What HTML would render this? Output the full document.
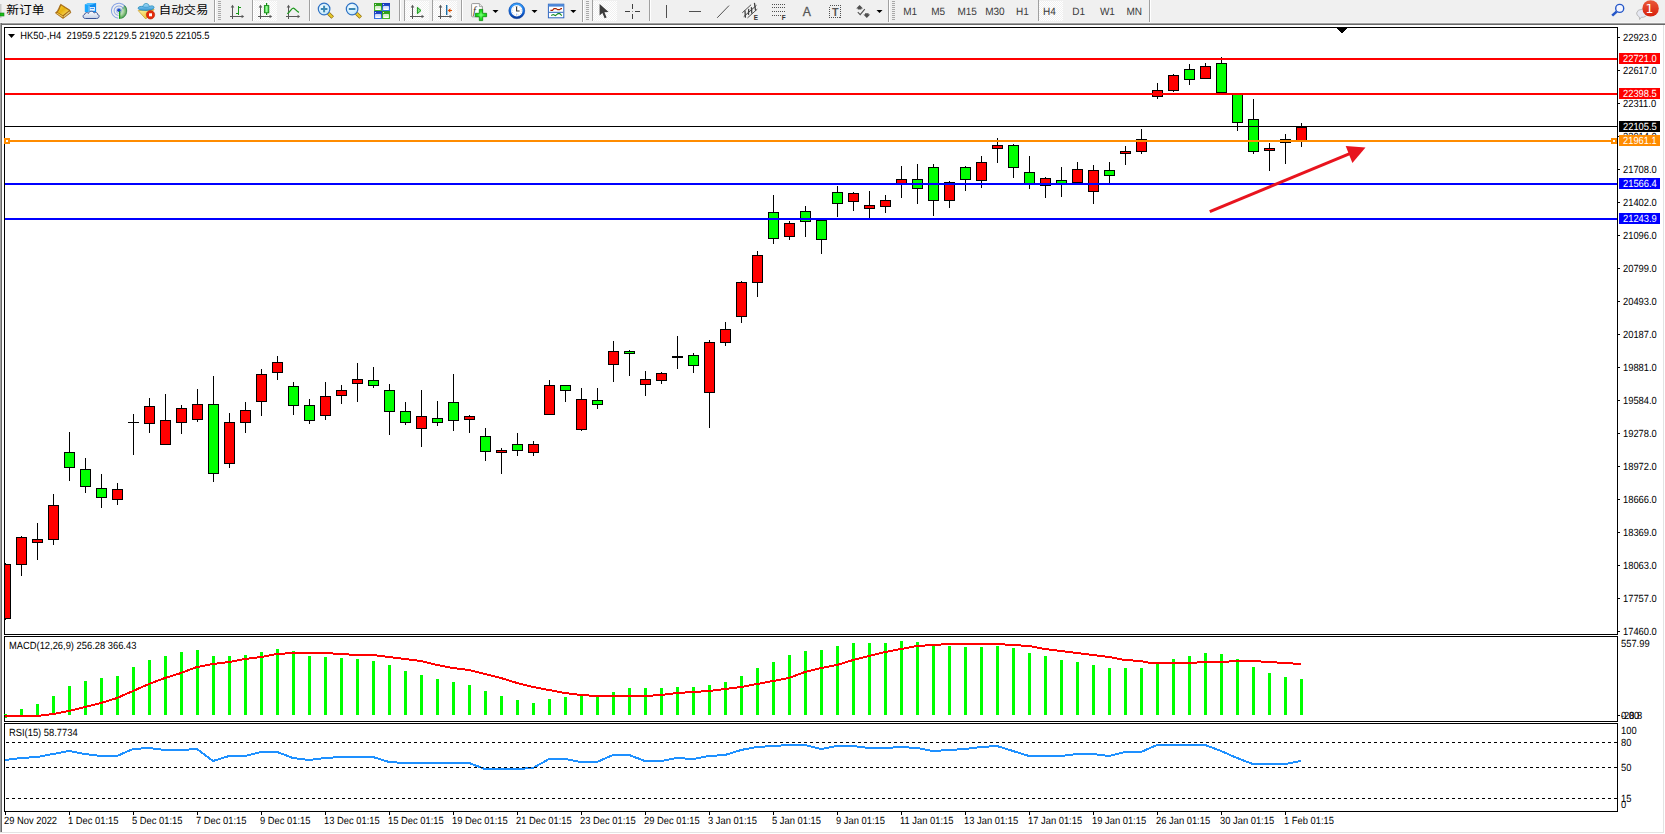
<!DOCTYPE html>
<html><head><meta charset="utf-8"><title>HK50-,H4</title>
<style>
html,body{margin:0;padding:0;background:#fff;overflow:hidden}
#app{position:relative;width:1665px;height:834px;background:#fff;overflow:hidden;font-family:"Liberation Sans","Noto Sans CJK SC",sans-serif}
#tb{position:absolute;left:0;top:0;width:1665px;height:25px;background:linear-gradient(#f0f0f0 0,#f0f0f0 22px,#f6f6f6 22px,#f6f6f6 23px,#a0a0a0 23px,#a0a0a0 24px,#696969 24px,#696969 25px)}
#lb{position:absolute;left:0;top:23px;width:2px;height:809px;background:linear-gradient(90deg,#a0a0a0 0,#a0a0a0 1px,#696969 1px,#696969 2px)}
#rb{position:absolute;left:1663px;top:25px;width:1px;height:808px;background:#e3e3e3}
#bb{position:absolute;left:0;top:832px;width:1664px;height:1px;background:#e3e3e3}
.cn{position:absolute;font-size:12px;line-height:12px;color:#000;white-space:nowrap;font-family:"Liberation Sans","Noto Sans CJK SC",sans-serif}
.tf{position:absolute;top:6px;font-size:9.33px;line-height:11px;color:#444;white-space:nowrap}
</style></head><body><div id="app">
<svg width="1665" height="834" viewBox="0 0 1665 834" style="position:absolute;left:0;top:0" font-size="10.4" font-family="Liberation Sans, sans-serif" text-rendering="geometricPrecision">
<g shape-rendering="crispEdges">
<rect x="4.5" y="27.5" width="1613" height="607" fill="#fff" stroke="#000" stroke-width="1"/>
<rect x="4.5" y="636.5" width="1613" height="85" fill="#fff" stroke="#000" stroke-width="1"/>
<rect x="4.5" y="723.5" width="1613" height="88" fill="#fff" stroke="#000" stroke-width="1"/>
<clipPath id="cm"><rect x="5" y="28" width="1612" height="606"/></clipPath>
<g clip-path="url(#cm)">
<rect x="5" y="563" width="1" height="57" fill="#000"/>
<rect x="0" y="564" width="11" height="55" fill="#000"/>
<rect x="1" y="565" width="9" height="53" fill="#ff0000"/>
<rect x="21" y="536" width="1" height="40" fill="#000"/>
<rect x="16" y="537" width="11" height="28" fill="#000"/>
<rect x="17" y="538" width="9" height="26" fill="#ff0000"/>
<rect x="37" y="523" width="1" height="37" fill="#000"/>
<rect x="32" y="539" width="11" height="4" fill="#000"/>
<rect x="33" y="540" width="9" height="2" fill="#ff0000"/>
<rect x="53" y="494" width="1" height="51" fill="#000"/>
<rect x="48" y="505" width="11" height="35" fill="#000"/>
<rect x="49" y="506" width="9" height="33" fill="#ff0000"/>
<rect x="69" y="432" width="1" height="49" fill="#000"/>
<rect x="64" y="452" width="11" height="16" fill="#000"/>
<rect x="65" y="453" width="9" height="14" fill="#00ff00"/>
<rect x="85" y="458" width="1" height="35" fill="#000"/>
<rect x="80" y="469" width="11" height="18" fill="#000"/>
<rect x="81" y="470" width="9" height="16" fill="#00ff00"/>
<rect x="101" y="474" width="1" height="34" fill="#000"/>
<rect x="96" y="488" width="11" height="10" fill="#000"/>
<rect x="97" y="489" width="9" height="8" fill="#00ff00"/>
<rect x="117" y="483" width="1" height="22" fill="#000"/>
<rect x="112" y="489" width="11" height="11" fill="#000"/>
<rect x="113" y="490" width="9" height="9" fill="#ff0000"/>
<rect x="133" y="414" width="1" height="41" fill="#000"/>
<rect x="128" y="422" width="11" height="1" fill="#000"/>
<rect x="149" y="398" width="1" height="35" fill="#000"/>
<rect x="144" y="406" width="11" height="18" fill="#000"/>
<rect x="145" y="407" width="9" height="16" fill="#ff0000"/>
<rect x="165" y="394" width="1" height="51" fill="#000"/>
<rect x="160" y="420" width="11" height="25" fill="#000"/>
<rect x="161" y="421" width="9" height="23" fill="#ff0000"/>
<rect x="181" y="405" width="1" height="29" fill="#000"/>
<rect x="176" y="408" width="11" height="15" fill="#000"/>
<rect x="177" y="409" width="9" height="13" fill="#ff0000"/>
<rect x="197" y="389" width="1" height="33" fill="#000"/>
<rect x="192" y="404" width="11" height="16" fill="#000"/>
<rect x="193" y="405" width="9" height="14" fill="#ff0000"/>
<rect x="213" y="376" width="1" height="106" fill="#000"/>
<rect x="208" y="404" width="11" height="70" fill="#000"/>
<rect x="209" y="405" width="9" height="68" fill="#00ff00"/>
<rect x="229" y="413" width="1" height="55" fill="#000"/>
<rect x="224" y="422" width="11" height="42" fill="#000"/>
<rect x="225" y="423" width="9" height="40" fill="#ff0000"/>
<rect x="245" y="402" width="1" height="31" fill="#000"/>
<rect x="240" y="410" width="11" height="13" fill="#000"/>
<rect x="241" y="411" width="9" height="11" fill="#ff0000"/>
<rect x="261" y="369" width="1" height="47" fill="#000"/>
<rect x="256" y="374" width="11" height="28" fill="#000"/>
<rect x="257" y="375" width="9" height="26" fill="#ff0000"/>
<rect x="277" y="356" width="1" height="24" fill="#000"/>
<rect x="272" y="362" width="11" height="11" fill="#000"/>
<rect x="273" y="363" width="9" height="9" fill="#ff0000"/>
<rect x="293" y="382" width="1" height="33" fill="#000"/>
<rect x="288" y="386" width="11" height="20" fill="#000"/>
<rect x="289" y="387" width="9" height="18" fill="#00ff00"/>
<rect x="309" y="399" width="1" height="25" fill="#000"/>
<rect x="304" y="405" width="11" height="16" fill="#000"/>
<rect x="305" y="406" width="9" height="14" fill="#00ff00"/>
<rect x="325" y="382" width="1" height="38" fill="#000"/>
<rect x="320" y="396" width="11" height="20" fill="#000"/>
<rect x="321" y="397" width="9" height="18" fill="#ff0000"/>
<rect x="341" y="385" width="1" height="19" fill="#000"/>
<rect x="336" y="390" width="11" height="6" fill="#000"/>
<rect x="337" y="391" width="9" height="4" fill="#ff0000"/>
<rect x="357" y="363" width="1" height="39" fill="#000"/>
<rect x="352" y="379" width="11" height="5" fill="#000"/>
<rect x="353" y="380" width="9" height="3" fill="#ff0000"/>
<rect x="373" y="367" width="1" height="21" fill="#000"/>
<rect x="368" y="380" width="11" height="6" fill="#000"/>
<rect x="369" y="381" width="9" height="4" fill="#00ff00"/>
<rect x="389" y="384" width="1" height="51" fill="#000"/>
<rect x="384" y="390" width="11" height="22" fill="#000"/>
<rect x="385" y="391" width="9" height="20" fill="#00ff00"/>
<rect x="405" y="402" width="1" height="23" fill="#000"/>
<rect x="400" y="411" width="11" height="12" fill="#000"/>
<rect x="401" y="412" width="9" height="10" fill="#00ff00"/>
<rect x="421" y="390" width="1" height="57" fill="#000"/>
<rect x="416" y="416" width="11" height="13" fill="#000"/>
<rect x="417" y="417" width="9" height="11" fill="#ff0000"/>
<rect x="437" y="401" width="1" height="25" fill="#000"/>
<rect x="432" y="418" width="11" height="5" fill="#000"/>
<rect x="433" y="419" width="9" height="3" fill="#00ff00"/>
<rect x="453" y="374" width="1" height="57" fill="#000"/>
<rect x="448" y="402" width="11" height="19" fill="#000"/>
<rect x="449" y="403" width="9" height="17" fill="#00ff00"/>
<rect x="469" y="415" width="1" height="18" fill="#000"/>
<rect x="464" y="416" width="11" height="4" fill="#000"/>
<rect x="465" y="417" width="9" height="2" fill="#ff0000"/>
<rect x="485" y="428" width="1" height="33" fill="#000"/>
<rect x="480" y="436" width="11" height="16" fill="#000"/>
<rect x="481" y="437" width="9" height="14" fill="#00ff00"/>
<rect x="501" y="448" width="1" height="26" fill="#000"/>
<rect x="496" y="450" width="11" height="3" fill="#000"/>
<rect x="497" y="451" width="9" height="1" fill="#ff0000"/>
<rect x="517" y="433" width="1" height="23" fill="#000"/>
<rect x="512" y="444" width="11" height="7" fill="#000"/>
<rect x="513" y="445" width="9" height="5" fill="#00ff00"/>
<rect x="533" y="441" width="1" height="15" fill="#000"/>
<rect x="528" y="444" width="11" height="9" fill="#000"/>
<rect x="529" y="445" width="9" height="7" fill="#ff0000"/>
<rect x="549" y="380" width="1" height="35" fill="#000"/>
<rect x="544" y="385" width="11" height="30" fill="#000"/>
<rect x="545" y="386" width="9" height="28" fill="#ff0000"/>
<rect x="565" y="385" width="1" height="17" fill="#000"/>
<rect x="560" y="385" width="11" height="6" fill="#000"/>
<rect x="561" y="386" width="9" height="4" fill="#00ff00"/>
<rect x="581" y="388" width="1" height="43" fill="#000"/>
<rect x="576" y="399" width="11" height="31" fill="#000"/>
<rect x="577" y="400" width="9" height="29" fill="#ff0000"/>
<rect x="597" y="388" width="1" height="21" fill="#000"/>
<rect x="592" y="400" width="11" height="5" fill="#000"/>
<rect x="593" y="401" width="9" height="3" fill="#00ff00"/>
<rect x="613" y="341" width="1" height="41" fill="#000"/>
<rect x="608" y="351" width="11" height="14" fill="#000"/>
<rect x="609" y="352" width="9" height="12" fill="#ff0000"/>
<rect x="629" y="350" width="1" height="26" fill="#000"/>
<rect x="624" y="351" width="11" height="3" fill="#000"/>
<rect x="625" y="352" width="9" height="1" fill="#00ff00"/>
<rect x="645" y="371" width="1" height="25" fill="#000"/>
<rect x="640" y="379" width="11" height="6" fill="#000"/>
<rect x="641" y="380" width="9" height="4" fill="#ff0000"/>
<rect x="661" y="372" width="1" height="12" fill="#000"/>
<rect x="656" y="373" width="11" height="8" fill="#000"/>
<rect x="657" y="374" width="9" height="6" fill="#ff0000"/>
<rect x="677" y="336" width="1" height="33" fill="#000"/>
<rect x="672" y="356" width="11" height="2" fill="#000"/>
<rect x="693" y="353" width="1" height="20" fill="#000"/>
<rect x="688" y="355" width="11" height="11" fill="#000"/>
<rect x="689" y="356" width="9" height="9" fill="#00ff00"/>
<rect x="709" y="340" width="1" height="88" fill="#000"/>
<rect x="704" y="342" width="11" height="51" fill="#000"/>
<rect x="705" y="343" width="9" height="49" fill="#ff0000"/>
<rect x="725" y="322" width="1" height="24" fill="#000"/>
<rect x="720" y="329" width="11" height="14" fill="#000"/>
<rect x="721" y="330" width="9" height="12" fill="#ff0000"/>
<rect x="741" y="281" width="1" height="42" fill="#000"/>
<rect x="736" y="282" width="11" height="35" fill="#000"/>
<rect x="737" y="283" width="9" height="33" fill="#ff0000"/>
<rect x="757" y="251" width="1" height="46" fill="#000"/>
<rect x="752" y="255" width="11" height="28" fill="#000"/>
<rect x="753" y="256" width="9" height="26" fill="#ff0000"/>
<rect x="773" y="195" width="1" height="49" fill="#000"/>
<rect x="768" y="212" width="11" height="27" fill="#000"/>
<rect x="769" y="213" width="9" height="25" fill="#00ff00"/>
<rect x="789" y="221" width="1" height="19" fill="#000"/>
<rect x="784" y="223" width="11" height="14" fill="#000"/>
<rect x="785" y="224" width="9" height="12" fill="#ff0000"/>
<rect x="805" y="206" width="1" height="31" fill="#000"/>
<rect x="800" y="211" width="11" height="11" fill="#000"/>
<rect x="801" y="212" width="9" height="9" fill="#00ff00"/>
<rect x="821" y="220" width="1" height="34" fill="#000"/>
<rect x="816" y="220" width="11" height="20" fill="#000"/>
<rect x="817" y="221" width="9" height="18" fill="#00ff00"/>
<rect x="837" y="186" width="1" height="31" fill="#000"/>
<rect x="832" y="192" width="11" height="12" fill="#000"/>
<rect x="833" y="193" width="9" height="10" fill="#00ff00"/>
<rect x="853" y="192" width="1" height="19" fill="#000"/>
<rect x="848" y="193" width="11" height="9" fill="#000"/>
<rect x="849" y="194" width="9" height="7" fill="#ff0000"/>
<rect x="869" y="191" width="1" height="28" fill="#000"/>
<rect x="864" y="205" width="11" height="4" fill="#000"/>
<rect x="865" y="206" width="9" height="2" fill="#ff0000"/>
<rect x="885" y="195" width="1" height="18" fill="#000"/>
<rect x="880" y="200" width="11" height="7" fill="#000"/>
<rect x="881" y="201" width="9" height="5" fill="#ff0000"/>
<rect x="901" y="166" width="1" height="32" fill="#000"/>
<rect x="896" y="179" width="11" height="6" fill="#000"/>
<rect x="897" y="180" width="9" height="4" fill="#ff0000"/>
<rect x="917" y="164" width="1" height="40" fill="#000"/>
<rect x="912" y="179" width="11" height="10" fill="#000"/>
<rect x="913" y="180" width="9" height="8" fill="#00ff00"/>
<rect x="933" y="164" width="1" height="52" fill="#000"/>
<rect x="928" y="167" width="11" height="34" fill="#000"/>
<rect x="929" y="168" width="9" height="32" fill="#00ff00"/>
<rect x="949" y="181" width="1" height="27" fill="#000"/>
<rect x="944" y="182" width="11" height="19" fill="#000"/>
<rect x="945" y="183" width="9" height="17" fill="#ff0000"/>
<rect x="965" y="166" width="1" height="25" fill="#000"/>
<rect x="960" y="167" width="11" height="13" fill="#000"/>
<rect x="961" y="168" width="9" height="11" fill="#00ff00"/>
<rect x="981" y="156" width="1" height="32" fill="#000"/>
<rect x="976" y="162" width="11" height="19" fill="#000"/>
<rect x="977" y="163" width="9" height="17" fill="#ff0000"/>
<rect x="997" y="138" width="1" height="25" fill="#000"/>
<rect x="992" y="145" width="11" height="4" fill="#000"/>
<rect x="993" y="146" width="9" height="2" fill="#ff0000"/>
<rect x="1013" y="144" width="1" height="34" fill="#000"/>
<rect x="1008" y="145" width="11" height="23" fill="#000"/>
<rect x="1009" y="146" width="9" height="21" fill="#00ff00"/>
<rect x="1029" y="156" width="1" height="33" fill="#000"/>
<rect x="1024" y="172" width="11" height="13" fill="#000"/>
<rect x="1025" y="173" width="9" height="11" fill="#00ff00"/>
<rect x="1045" y="177" width="1" height="21" fill="#000"/>
<rect x="1040" y="178" width="11" height="8" fill="#000"/>
<rect x="1041" y="179" width="9" height="6" fill="#ff0000"/>
<rect x="1061" y="167" width="1" height="30" fill="#000"/>
<rect x="1056" y="180" width="11" height="5" fill="#000"/>
<rect x="1057" y="181" width="9" height="3" fill="#00ff00"/>
<rect x="1077" y="162" width="1" height="21" fill="#000"/>
<rect x="1072" y="169" width="11" height="14" fill="#000"/>
<rect x="1073" y="170" width="9" height="12" fill="#ff0000"/>
<rect x="1093" y="165" width="1" height="39" fill="#000"/>
<rect x="1088" y="170" width="11" height="22" fill="#000"/>
<rect x="1089" y="171" width="9" height="20" fill="#ff0000"/>
<rect x="1109" y="162" width="1" height="21" fill="#000"/>
<rect x="1104" y="170" width="11" height="6" fill="#000"/>
<rect x="1105" y="171" width="9" height="4" fill="#00ff00"/>
<rect x="1125" y="146" width="1" height="19" fill="#000"/>
<rect x="1120" y="151" width="11" height="3" fill="#000"/>
<rect x="1121" y="152" width="9" height="1" fill="#ff0000"/>
<rect x="1141" y="129" width="1" height="25" fill="#000"/>
<rect x="1136" y="139" width="11" height="13" fill="#000"/>
<rect x="1137" y="140" width="9" height="11" fill="#ff0000"/>
<rect x="1157" y="83" width="1" height="16" fill="#000"/>
<rect x="1152" y="90" width="11" height="7" fill="#000"/>
<rect x="1153" y="91" width="9" height="5" fill="#ff0000"/>
<rect x="1173" y="74" width="1" height="18" fill="#000"/>
<rect x="1168" y="75" width="11" height="16" fill="#000"/>
<rect x="1169" y="76" width="9" height="14" fill="#ff0000"/>
<rect x="1189" y="64" width="1" height="21" fill="#000"/>
<rect x="1184" y="69" width="11" height="11" fill="#000"/>
<rect x="1185" y="70" width="9" height="9" fill="#00ff00"/>
<rect x="1205" y="63" width="1" height="16" fill="#000"/>
<rect x="1200" y="66" width="11" height="13" fill="#000"/>
<rect x="1201" y="67" width="9" height="11" fill="#ff0000"/>
<rect x="1221" y="57" width="1" height="36" fill="#000"/>
<rect x="1216" y="63" width="11" height="30" fill="#000"/>
<rect x="1217" y="64" width="9" height="28" fill="#00ff00"/>
<rect x="1237" y="94" width="1" height="37" fill="#000"/>
<rect x="1232" y="94" width="11" height="29" fill="#000"/>
<rect x="1233" y="95" width="9" height="27" fill="#00ff00"/>
<rect x="1253" y="99" width="1" height="55" fill="#000"/>
<rect x="1248" y="119" width="11" height="33" fill="#000"/>
<rect x="1249" y="120" width="9" height="31" fill="#00ff00"/>
<rect x="1269" y="143" width="1" height="28" fill="#000"/>
<rect x="1264" y="148" width="11" height="3" fill="#000"/>
<rect x="1265" y="149" width="9" height="1" fill="#ff0000"/>
<rect x="1285" y="134" width="1" height="30" fill="#000"/>
<rect x="1280" y="139" width="11" height="4" fill="#000"/>
<rect x="1281" y="140" width="9" height="2" fill="#ff0000"/>
<rect x="1301" y="123" width="1" height="24" fill="#000"/>
<rect x="1296" y="127" width="11" height="14" fill="#000"/>
<rect x="1297" y="128" width="9" height="12" fill="#ff0000"/>
</g>
<rect x="5" y="58" width="1612" height="2" fill="#ff0000"/>
<rect x="5" y="93" width="1612" height="2" fill="#ff0000"/>
<rect x="5" y="126" width="1612" height="1" fill="#000"/>
<rect x="5" y="140" width="1612" height="2" fill="#ff8c00"/>
<rect x="5" y="183" width="1612" height="2" fill="#0000ff"/>
<rect x="5" y="218" width="1612" height="2" fill="#0000ff"/>
<rect x="4" y="138" width="6" height="6" fill="#ff8c00"/><rect x="6" y="140" width="2" height="2" fill="#fff"/>
<rect x="1611" y="138" width="6" height="6" fill="#ff8c00"/><rect x="1613" y="140" width="2" height="2" fill="#fff"/>
<polygon points="1336,28 1347,28 1341.5,33.5" fill="#000"/>
<rect x="4" y="714" width="3" height="1" fill="#00ff00"/>
<rect x="20" y="709" width="3" height="6" fill="#00ff00"/>
<rect x="36" y="704" width="3" height="11" fill="#00ff00"/>
<rect x="52" y="696" width="3" height="19" fill="#00ff00"/>
<rect x="68" y="686" width="3" height="29" fill="#00ff00"/>
<rect x="84" y="681" width="3" height="34" fill="#00ff00"/>
<rect x="100" y="678" width="3" height="37" fill="#00ff00"/>
<rect x="116" y="676" width="3" height="39" fill="#00ff00"/>
<rect x="132" y="667" width="3" height="48" fill="#00ff00"/>
<rect x="148" y="660" width="3" height="55" fill="#00ff00"/>
<rect x="164" y="656" width="3" height="59" fill="#00ff00"/>
<rect x="180" y="652" width="3" height="63" fill="#00ff00"/>
<rect x="196" y="650" width="3" height="65" fill="#00ff00"/>
<rect x="212" y="656" width="3" height="59" fill="#00ff00"/>
<rect x="228" y="656" width="3" height="59" fill="#00ff00"/>
<rect x="244" y="655" width="3" height="60" fill="#00ff00"/>
<rect x="260" y="652" width="3" height="63" fill="#00ff00"/>
<rect x="276" y="649" width="3" height="66" fill="#00ff00"/>
<rect x="292" y="651" width="3" height="64" fill="#00ff00"/>
<rect x="308" y="656" width="3" height="59" fill="#00ff00"/>
<rect x="324" y="657" width="3" height="58" fill="#00ff00"/>
<rect x="340" y="658" width="3" height="57" fill="#00ff00"/>
<rect x="356" y="659" width="3" height="56" fill="#00ff00"/>
<rect x="372" y="661" width="3" height="54" fill="#00ff00"/>
<rect x="388" y="665" width="3" height="50" fill="#00ff00"/>
<rect x="404" y="671" width="3" height="44" fill="#00ff00"/>
<rect x="420" y="675" width="3" height="40" fill="#00ff00"/>
<rect x="436" y="679" width="3" height="36" fill="#00ff00"/>
<rect x="452" y="682" width="3" height="33" fill="#00ff00"/>
<rect x="468" y="685" width="3" height="30" fill="#00ff00"/>
<rect x="484" y="691" width="3" height="24" fill="#00ff00"/>
<rect x="500" y="696" width="3" height="19" fill="#00ff00"/>
<rect x="516" y="700" width="3" height="15" fill="#00ff00"/>
<rect x="532" y="703" width="3" height="12" fill="#00ff00"/>
<rect x="548" y="699" width="3" height="16" fill="#00ff00"/>
<rect x="564" y="697" width="3" height="18" fill="#00ff00"/>
<rect x="580" y="696" width="3" height="19" fill="#00ff00"/>
<rect x="596" y="697" width="3" height="18" fill="#00ff00"/>
<rect x="612" y="692" width="3" height="23" fill="#00ff00"/>
<rect x="628" y="688" width="3" height="27" fill="#00ff00"/>
<rect x="644" y="688" width="3" height="27" fill="#00ff00"/>
<rect x="660" y="688" width="3" height="27" fill="#00ff00"/>
<rect x="676" y="687" width="3" height="28" fill="#00ff00"/>
<rect x="692" y="687" width="3" height="28" fill="#00ff00"/>
<rect x="708" y="685" width="3" height="30" fill="#00ff00"/>
<rect x="724" y="682" width="3" height="33" fill="#00ff00"/>
<rect x="740" y="676" width="3" height="39" fill="#00ff00"/>
<rect x="756" y="668" width="3" height="47" fill="#00ff00"/>
<rect x="772" y="662" width="3" height="53" fill="#00ff00"/>
<rect x="788" y="655" width="3" height="60" fill="#00ff00"/>
<rect x="804" y="651" width="3" height="64" fill="#00ff00"/>
<rect x="820" y="650" width="3" height="65" fill="#00ff00"/>
<rect x="836" y="646" width="3" height="69" fill="#00ff00"/>
<rect x="852" y="643" width="3" height="72" fill="#00ff00"/>
<rect x="868" y="643" width="3" height="72" fill="#00ff00"/>
<rect x="884" y="643" width="3" height="72" fill="#00ff00"/>
<rect x="900" y="641" width="3" height="74" fill="#00ff00"/>
<rect x="916" y="642" width="3" height="73" fill="#00ff00"/>
<rect x="932" y="646" width="3" height="69" fill="#00ff00"/>
<rect x="948" y="646" width="3" height="69" fill="#00ff00"/>
<rect x="964" y="647" width="3" height="68" fill="#00ff00"/>
<rect x="980" y="647" width="3" height="68" fill="#00ff00"/>
<rect x="996" y="646" width="3" height="69" fill="#00ff00"/>
<rect x="1012" y="648" width="3" height="67" fill="#00ff00"/>
<rect x="1028" y="653" width="3" height="62" fill="#00ff00"/>
<rect x="1044" y="656" width="3" height="59" fill="#00ff00"/>
<rect x="1060" y="660" width="3" height="55" fill="#00ff00"/>
<rect x="1076" y="662" width="3" height="53" fill="#00ff00"/>
<rect x="1092" y="665" width="3" height="50" fill="#00ff00"/>
<rect x="1108" y="668" width="3" height="47" fill="#00ff00"/>
<rect x="1124" y="668" width="3" height="47" fill="#00ff00"/>
<rect x="1140" y="668" width="3" height="47" fill="#00ff00"/>
<rect x="1156" y="663" width="3" height="52" fill="#00ff00"/>
<rect x="1172" y="659" width="3" height="56" fill="#00ff00"/>
<rect x="1188" y="656" width="3" height="59" fill="#00ff00"/>
<rect x="1204" y="653" width="3" height="62" fill="#00ff00"/>
<rect x="1220" y="654" width="3" height="61" fill="#00ff00"/>
<rect x="1236" y="659" width="3" height="56" fill="#00ff00"/>
<rect x="1252" y="667" width="3" height="48" fill="#00ff00"/>
<rect x="1268" y="673" width="3" height="42" fill="#00ff00"/>
<rect x="1284" y="677" width="3" height="38" fill="#00ff00"/>
<rect x="1300" y="679" width="3" height="36" fill="#00ff00"/>
<rect x="5" y="717" width="2" height="1" fill="#00ff00"/>
<clipPath id="c2"><rect x="5" y="637" width="1612" height="84"/></clipPath>
<polyline clip-path="url(#c2)" points="5,716 21,716 37,716 53,714 69,711 85,707 101,703 117,698 133,691 149,684 165,678 181,673 197,667 213,664 229,662 245,659 261,657 277,654 293,653 309,653 325,653 341,654 357,655 373,655 389,657 405,659 421,661 437,665 453,668 469,670 485,674 501,678 517,683 533,687 549,690 565,693 581,695 597,696 613,696 629,696 645,696 661,695 677,693 693,692 709,691 725,689 741,687 757,684 773,681 789,678 805,672 821,668 837,665 853,660 869,656 885,652 901,649 917,646 933,645 949,644 965,644 981,644 997,644 1013,645 1029,646 1045,649 1061,651 1077,653 1093,655 1109,657 1125,660 1141,661 1150,663 1157,663 1173,663 1189,663 1205,662 1221,662 1237,661 1253,661 1269,662 1285,663 1301,664" fill="none" stroke="#ff0000" stroke-width="2"/>
<polyline points="5,760 21,758 37,757 53,754 69,751 85,754 101,756 117,756 133,749 149,748 165,750 181,750 197,749 213,761 229,756 245,756 261,752 277,752 293,758 309,760 325,758 341,757 357,757 373,757 389,762 405,763 421,763 437,763 453,763 469,763 485,769 501,769 517,769 533,768 549,759 565,759 581,762 597,762 613,755 629,755 645,761 661,761 677,758 693,759 709,756 725,755 741,750 757,747 773,746 789,745 805,745 821,749 837,746 853,746 869,748 885,748 901,747 917,748 933,751 949,750 965,749 981,747 997,746 1013,751 1029,756 1045,756 1061,756 1077,754 1093,754 1109,756 1125,752 1141,752 1157,745 1173,745 1189,745 1205,745 1221,751 1237,758 1253,764 1269,764 1285,764 1301,761" fill="none" stroke="#1e90ff" stroke-width="2"/>
<line x1="6" x2="1617" y1="742.5" y2="742.5" stroke="#000" stroke-width="1" stroke-dasharray="3 3"/>
<line x1="6" x2="1617" y1="767.5" y2="767.5" stroke="#000" stroke-width="1" stroke-dasharray="3 3"/>
<line x1="6" x2="1617" y1="798.5" y2="798.5" stroke="#000" stroke-width="1" stroke-dasharray="3 3"/>
<rect x="1618" y="37" width="2" height="1" fill="#000"/>
<rect x="1618" y="70" width="2" height="1" fill="#000"/>
<rect x="1618" y="103" width="2" height="1" fill="#000"/>
<rect x="1618" y="136" width="2" height="1" fill="#000"/>
<rect x="1618" y="169" width="2" height="1" fill="#000"/>
<rect x="1618" y="202" width="2" height="1" fill="#000"/>
<rect x="1618" y="235" width="2" height="1" fill="#000"/>
<rect x="1618" y="268" width="2" height="1" fill="#000"/>
<rect x="1618" y="301" width="2" height="1" fill="#000"/>
<rect x="1618" y="334" width="2" height="1" fill="#000"/>
<rect x="1618" y="367" width="2" height="1" fill="#000"/>
<rect x="1618" y="400" width="2" height="1" fill="#000"/>
<rect x="1618" y="433" width="2" height="1" fill="#000"/>
<rect x="1618" y="466" width="2" height="1" fill="#000"/>
<rect x="1618" y="499" width="2" height="1" fill="#000"/>
<rect x="1618" y="532" width="2" height="1" fill="#000"/>
<rect x="1618" y="565" width="2" height="1" fill="#000"/>
<rect x="1618" y="598" width="2" height="1" fill="#000"/>
<rect x="1618" y="631" width="2" height="1" fill="#000"/>
<rect x="1618" y="715" width="2" height="1" fill="#000"/>
<rect x="5" y="812" width="1" height="3" fill="#000"/>
<rect x="69" y="812" width="1" height="3" fill="#000"/>
<rect x="133" y="812" width="1" height="3" fill="#000"/>
<rect x="197" y="812" width="1" height="3" fill="#000"/>
<rect x="261" y="812" width="1" height="3" fill="#000"/>
<rect x="325" y="812" width="1" height="3" fill="#000"/>
<rect x="389" y="812" width="1" height="3" fill="#000"/>
<rect x="453" y="812" width="1" height="3" fill="#000"/>
<rect x="517" y="812" width="1" height="3" fill="#000"/>
<rect x="581" y="812" width="1" height="3" fill="#000"/>
<rect x="645" y="812" width="1" height="3" fill="#000"/>
<rect x="709" y="812" width="1" height="3" fill="#000"/>
<rect x="773" y="812" width="1" height="3" fill="#000"/>
<rect x="837" y="812" width="1" height="3" fill="#000"/>
<rect x="901" y="812" width="1" height="3" fill="#000"/>
<rect x="965" y="812" width="1" height="3" fill="#000"/>
<rect x="1029" y="812" width="1" height="3" fill="#000"/>
<rect x="1093" y="812" width="1" height="3" fill="#000"/>
<rect x="1157" y="812" width="1" height="3" fill="#000"/>
<rect x="1221" y="812" width="1" height="3" fill="#000"/>
<rect x="1285" y="812" width="1" height="3" fill="#000"/>
</g>
<line x1="1209.8" y1="211.6" x2="1351" y2="153.1" stroke="#e8141e" stroke-width="3.1"/>
<polygon points="1345.7,146 1365.5,147.5 1352.4,163" fill="#e8141e"/>
<text transform="translate(1623,40.6) scale(0.9,1)" fill="#000" text-anchor="start" >22923.0</text>
<text transform="translate(1623,73.6) scale(0.9,1)" fill="#000" text-anchor="start" >22617.0</text>
<text transform="translate(1623,106.6) scale(0.9,1)" fill="#000" text-anchor="start" >22311.0</text>
<text transform="translate(1623,139.6) scale(0.9,1)" fill="#000" text-anchor="start" >22014.0</text>
<text transform="translate(1623,172.6) scale(0.9,1)" fill="#000" text-anchor="start" >21708.0</text>
<text transform="translate(1623,205.6) scale(0.9,1)" fill="#000" text-anchor="start" >21402.0</text>
<text transform="translate(1623,238.6) scale(0.9,1)" fill="#000" text-anchor="start" >21096.0</text>
<text transform="translate(1623,271.6) scale(0.9,1)" fill="#000" text-anchor="start" >20799.0</text>
<text transform="translate(1623,304.6) scale(0.9,1)" fill="#000" text-anchor="start" >20493.0</text>
<text transform="translate(1623,337.6) scale(0.9,1)" fill="#000" text-anchor="start" >20187.0</text>
<text transform="translate(1623,370.6) scale(0.9,1)" fill="#000" text-anchor="start" >19881.0</text>
<text transform="translate(1623,403.6) scale(0.9,1)" fill="#000" text-anchor="start" >19584.0</text>
<text transform="translate(1623,436.6) scale(0.9,1)" fill="#000" text-anchor="start" >19278.0</text>
<text transform="translate(1623,469.6) scale(0.9,1)" fill="#000" text-anchor="start" >18972.0</text>
<text transform="translate(1623,502.6) scale(0.9,1)" fill="#000" text-anchor="start" >18666.0</text>
<text transform="translate(1623,535.6) scale(0.9,1)" fill="#000" text-anchor="start" >18369.0</text>
<text transform="translate(1623,568.6) scale(0.9,1)" fill="#000" text-anchor="start" >18063.0</text>
<text transform="translate(1623,601.6) scale(0.9,1)" fill="#000" text-anchor="start" >17757.0</text>
<text transform="translate(1623,634.6) scale(0.9,1)" fill="#000" text-anchor="start" >17460.0</text>
<rect x="1619" y="53" width="41" height="11" fill="#ff0000" shape-rendering="crispEdges"/><text transform="translate(1623,62) scale(0.9,1)" fill="#fff" text-anchor="start" >22721.0</text>
<rect x="1619" y="88" width="41" height="11" fill="#ff0000" shape-rendering="crispEdges"/><text transform="translate(1623,97) scale(0.9,1)" fill="#fff" text-anchor="start" >22398.5</text>
<rect x="1619" y="121" width="41" height="11" fill="#000" shape-rendering="crispEdges"/><text transform="translate(1623,130) scale(0.9,1)" fill="#fff" text-anchor="start" >22105.5</text>
<rect x="1619" y="135" width="41" height="11" fill="#ff8c00" shape-rendering="crispEdges"/><text transform="translate(1623,144) scale(0.9,1)" fill="#fff" text-anchor="start" >21961.1</text>
<rect x="1619" y="178" width="41" height="11" fill="#0000ff" shape-rendering="crispEdges"/><text transform="translate(1623,187) scale(0.9,1)" fill="#fff" text-anchor="start" >21566.4</text>
<rect x="1619" y="213" width="41" height="11" fill="#0000ff" shape-rendering="crispEdges"/><text transform="translate(1623,222) scale(0.9,1)" fill="#fff" text-anchor="start" >21243.9</text>
<text transform="translate(1621,647) scale(0.9,1)" fill="#000" text-anchor="start" >557.99</text>
<text transform="translate(1621,719) scale(0.9,1)" fill="#000" text-anchor="start" >0.00</text>
<text transform="translate(1621,719) scale(0.9,1)" fill="#000" text-anchor="start" >-28.8</text>
<text transform="translate(1621,734) scale(0.9,1)" fill="#000" text-anchor="start" >100</text>
<text transform="translate(1621,745.6) scale(0.9,1)" fill="#000" text-anchor="start" >80</text>
<text transform="translate(1621,770.6) scale(0.9,1)" fill="#000" text-anchor="start" >50</text>
<text transform="translate(1621,802) scale(0.9,1)" fill="#000" text-anchor="start" >15</text>
<text transform="translate(1621,808) scale(0.9,1)" fill="#000" text-anchor="start" >0</text>
<text transform="translate(4,824) scale(0.9,1)" fill="#000" text-anchor="start" >29 Nov 2022</text>
<text transform="translate(68,824) scale(0.9,1)" fill="#000" text-anchor="start" >1 Dec 01:15</text>
<text transform="translate(132,824) scale(0.9,1)" fill="#000" text-anchor="start" >5 Dec 01:15</text>
<text transform="translate(196,824) scale(0.9,1)" fill="#000" text-anchor="start" >7 Dec 01:15</text>
<text transform="translate(260,824) scale(0.9,1)" fill="#000" text-anchor="start" >9 Dec 01:15</text>
<text transform="translate(324,824) scale(0.9,1)" fill="#000" text-anchor="start" >13 Dec 01:15</text>
<text transform="translate(388,824) scale(0.9,1)" fill="#000" text-anchor="start" >15 Dec 01:15</text>
<text transform="translate(452,824) scale(0.9,1)" fill="#000" text-anchor="start" >19 Dec 01:15</text>
<text transform="translate(516,824) scale(0.9,1)" fill="#000" text-anchor="start" >21 Dec 01:15</text>
<text transform="translate(580,824) scale(0.9,1)" fill="#000" text-anchor="start" >23 Dec 01:15</text>
<text transform="translate(644,824) scale(0.9,1)" fill="#000" text-anchor="start" >29 Dec 01:15</text>
<text transform="translate(708,824) scale(0.9,1)" fill="#000" text-anchor="start" >3 Jan 01:15</text>
<text transform="translate(772,824) scale(0.9,1)" fill="#000" text-anchor="start" >5 Jan 01:15</text>
<text transform="translate(836,824) scale(0.9,1)" fill="#000" text-anchor="start" >9 Jan 01:15</text>
<text transform="translate(900,824) scale(0.9,1)" fill="#000" text-anchor="start" >11 Jan 01:15</text>
<text transform="translate(964,824) scale(0.9,1)" fill="#000" text-anchor="start" >13 Jan 01:15</text>
<text transform="translate(1028,824) scale(0.9,1)" fill="#000" text-anchor="start" >17 Jan 01:15</text>
<text transform="translate(1092,824) scale(0.9,1)" fill="#000" text-anchor="start" >19 Jan 01:15</text>
<text transform="translate(1156,824) scale(0.9,1)" fill="#000" text-anchor="start" >26 Jan 01:15</text>
<text transform="translate(1220,824) scale(0.9,1)" fill="#000" text-anchor="start" >30 Jan 01:15</text>
<text transform="translate(1284,824) scale(0.9,1)" fill="#000" text-anchor="start" >1 Feb 01:15</text>
<polygon points="8,34 15,34 11.5,38" fill="#000"/>
<text transform="translate(20.2,39) scale(0.9,1)" fill="#000" text-anchor="start" xml:space="preserve">HK50-,H4&#160;&#160;21959.5 22129.5 21920.5 22105.5</text>
<text transform="translate(9,649) scale(0.9,1)" fill="#000" text-anchor="start" >MACD(12,26,9) 256.28 366.43</text>
<text transform="translate(9,736) scale(0.9,1)" fill="#000" text-anchor="start" >RSI(15) 58.7734</text>
</svg>
<div id="tb"></div><div id="lb"></div><div id="rb"></div><div id="bb"></div>
<svg width="1665" height="25" viewBox="0 0 1665 25" style="position:absolute;left:0;top:0" font-family="Liberation Sans, Noto Sans CJK SC, sans-serif">
<defs>
<linearGradient id="gold2" x1="0" y1="0" x2="1" y2="1"><stop offset="0" stop-color="#f6d030"/><stop offset=".45" stop-color="#e8b210"/><stop offset="1" stop-color="#fbe070"/></linearGradient>
<radialGradient id="rgr" cx="118.9" cy="10.7" r="8" gradientUnits="userSpaceOnUse"><stop offset="0" stop-color="#e6f2e0"/><stop offset=".55" stop-color="#b4d8ac"/><stop offset="1" stop-color="#4aa04a"/></radialGradient>
<linearGradient id="clk" x1="0" y1="0" x2="0" y2="1"><stop offset="0" stop-color="#3aa0fa"/><stop offset=".6" stop-color="#1268dc"/><stop offset="1" stop-color="#0a3c9c"/></linearGradient>
<radialGradient id="plusg" cx="481" cy="15" r="6" gradientUnits="userSpaceOnUse"><stop offset="0" stop-color="#7dff7d"/><stop offset=".6" stop-color="#1fe01f"/><stop offset="1" stop-color="#0fc00f"/></radialGradient>
<linearGradient id="gold" x1="0" y1="0" x2="1" y2="1"><stop offset="0" stop-color="#fbe46a"/><stop offset=".5" stop-color="#eec22a"/><stop offset="1" stop-color="#b87c14"/></linearGradient>
<linearGradient id="srv" x1="0" y1="0" x2="1" y2="0"><stop offset="0" stop-color="#1e9cf4"/><stop offset="1" stop-color="#1560d8"/></linearGradient>
<linearGradient id="cld" x1="0" y1="0" x2="0" y2="1"><stop offset="0" stop-color="#ffffff"/><stop offset="1" stop-color="#c4cfe6"/></linearGradient>
<linearGradient id="badge" x1="0" y1="0" x2="0" y2="1"><stop offset="0" stop-color="#ea5a3a"/><stop offset="1" stop-color="#d8200c"/></linearGradient>
<linearGradient id="cgr" x1="0" y1="0" x2="1" y2="0"><stop offset="0" stop-color="#30c030"/><stop offset=".5" stop-color="#a0ffa0"/><stop offset="1" stop-color="#30c030"/></linearGradient>
<radialGradient id="lens" cx=".4" cy=".35" r=".7"><stop offset="0" stop-color="#f4fcff"/><stop offset="1" stop-color="#bfe6fb"/></radialGradient>
<linearGradient id="tgreen" x1="0" y1="0" x2="0" y2="1"><stop offset="0" stop-color="#2a9a18"/><stop offset="1" stop-color="#4ab82a"/></linearGradient>
<linearGradient id="tblue" x1="0" y1="0" x2="0" y2="1"><stop offset="0" stop-color="#1438b8"/><stop offset="1" stop-color="#3a78e8"/></linearGradient>
<linearGradient id="hat" x1="0" y1="0" x2="0" y2="1"><stop offset="0" stop-color="#a4dcf8"/><stop offset=".6" stop-color="#62b4e6"/><stop offset="1" stop-color="#3c98d0"/></linearGradient>
<linearGradient id="ylw" x1="0" y1="0" x2="1" y2="1"><stop offset="0" stop-color="#fff2a0"/><stop offset="1" stop-color="#e8b820"/></linearGradient>
<pattern id="chk" width="2" height="2" patternUnits="userSpaceOnUse"><rect width="2" height="2" fill="#fff"/><rect width="1" height="1" fill="#f0f0f0"/><rect x="1" y="1" width="1" height="1" fill="#f0f0f0"/></pattern>
</defs>
<rect x="0" y="4" width="1.5" height="14" fill="#c8c8c8"/><rect x="0" y="13" width="4" height="3" fill="#18c018" stroke="#108010" stroke-width=".6"/>
<text transform="translate(6.2,14.2) scale(1.1,1)" font-size="11.6" fill="#000">新订单</text>
<path d="M60.7,4.2 L69.9,10.1 L70.8,12.7 L63,18.5 L55.4,13 Q57.8,11 58.8,8.2 Q59.8,5.6 60.7,4.2 Z" fill="#a5680e" stroke="#a5680e" stroke-width=".7" stroke-linejoin="round"/>
<path d="M61.2,5.6 L68.9,10.6 L62.8,15.2 L57.6,12.2 Q59,10.6 59.9,8.4 Q60.6,6.6 61.2,5.6 Z" fill="url(#gold2)"/>
<polygon points="56.4,13.2 62.7,17.5 62.9,16.2 57.2,12.8" fill="#f4d060"/>
<polygon points="69.4,11.3 70,12.5 63.7,17.4 63.5,16.3" fill="#e2d08a"/>
<polygon points="84.9,4.4 88.6,3.1 96.1,3.1 96.1,12 84.9,12" fill="#0f8cf0"/>
<polygon points="84.9,4.4 88.6,5.6 88.6,12 84.9,12" fill="#19a8ff"/><polygon points="84.9,4.4 88.6,3.1 96.1,3.1 92.6,4.6 88.6,5.6" fill="#4fc0ff"/>
<rect x="88.7" y="5.7" width=".7" height="6.3" fill="#d8f0ff"/><rect x="89.9" y="7" width="5" height="3.8" fill="#e6f4ff"/><rect x="90.4" y="7.9" width="3.6" height="1" fill="#2f86ea"/>
<path d="M85.4,18.5 C82.6,18.5 82.3,14.8 84.9,14.2 C84.7,12.5 87.5,12 88.5,13.4 C89,10.7 93.5,10.5 94.1,13 C95.5,11.8 97.9,12.6 97.5,14.4 C100,14.8 99.6,18.5 96.6,18.5 Z" fill="url(#cld)" stroke="#3a5496" stroke-width="1"/>
<path d="M119.5,10.7 L119.5,18.7 A8,8 0 0 0 124.8,5.2 Z" fill="url(#rgr)"/>
<g fill="none" stroke="#2f62d8"><circle cx="118.9" cy="10.7" r="7.5" stroke-width="1" opacity=".55" stroke-dasharray="30 18" transform="rotate(95 118.9 10.7)"/><circle cx="118.9" cy="10.7" r="4.8" stroke-width="1" opacity=".5" stroke-dasharray="20 11" transform="rotate(95 118.9 10.7)"/><circle cx="118.9" cy="10.7" r="2.6" stroke-width=".9" opacity=".4"/></g>
<path d="M121.5,18.2 A7.7,7.7 0 0 0 124.6,5.6" fill="none" stroke="#2f7a50" stroke-width="1" opacity=".6"/>
<circle cx="118.9" cy="10.3" r="1.8" fill="#1d49c8"/><rect x="119" y="11" width="1.3" height="7.8" fill="#18a018"/>
<polygon points="138.2,10.6 154.1,9.4 145.8,19" fill="url(#ylw)" stroke="#c89818" stroke-width=".7"/>
<path d="M138.1,8.2 C138.1,6.4 141.4,6 142.9,6.6 C143.2,2.6 148.8,2.4 149.3,6.4 C151.4,5.4 154.2,5.8 154.1,7.4 C154,9.6 149,10.4 146,10.4 C142.4,10.4 138.1,10 138.1,8.2 Z" fill="url(#hat)" stroke="#1c86b4" stroke-width=".7"/>
<path d="M142.8,6.6 C144.4,8 148,8 149.5,6.4" fill="none" stroke="#1c86b4" stroke-width=".5" opacity=".7"/>
<circle cx="150.5" cy="14.8" r="4.2" fill="#e42a0a" stroke="#b81c04" stroke-width=".6"/><rect x="149" y="13.3" width="3" height="3" fill="#fff"/>
<text transform="translate(158.8,14.2) scale(1.07,1)" font-size="11.6" fill="#000">自动交易</text>
<rect x="214" y="0" width="1" height="22" fill="#a0a0a0"/><rect x="215" y="0" width="1" height="22" fill="#fff"/>
<rect x="218" y="1" width="3" height="1" fill="#a8a8a8"/><rect x="218" y="3" width="3" height="1" fill="#a8a8a8"/><rect x="218" y="5" width="3" height="1" fill="#a8a8a8"/><rect x="218" y="7" width="3" height="1" fill="#a8a8a8"/><rect x="218" y="9" width="3" height="1" fill="#a8a8a8"/><rect x="218" y="11" width="3" height="1" fill="#a8a8a8"/><rect x="218" y="13" width="3" height="1" fill="#a8a8a8"/><rect x="218" y="15" width="3" height="1" fill="#a8a8a8"/><rect x="218" y="17" width="3" height="1" fill="#a8a8a8"/><rect x="218" y="19" width="3" height="1" fill="#a8a8a8"/>
<g fill="#585858" shape-rendering="crispEdges"><rect x="232" y="6" width="1" height="13"/><rect x="230" y="16" width="13" height="1"/></g><polygon points="232.5,4.8 234.3,7.4 230.7,7.4" fill="#585858"/><polygon points="244.2,16.5 241.6,14.7 241.6,18.3" fill="#585858"/>
<g fill="#189818" shape-rendering="crispEdges"><rect x="238" y="6" width="1.4" height="9"/><rect x="236" y="13" width="2" height="1.3"/><rect x="239.4" y="7" width="2" height="1.3"/></g>
<rect x="253" y="1" width="24" height="20" fill="url(#chk)"/><rect x="252" y="0" width="1" height="21" fill="#a0a0a0"/>
<rect x="253" y="0" width="1" height="21" fill="#fff"/>
<g fill="#585858" shape-rendering="crispEdges"><rect x="260" y="6" width="1" height="13"/><rect x="258" y="16" width="13" height="1"/></g><polygon points="260.5,4.8 262.3,7.4 258.7,7.4" fill="#585858"/><polygon points="272.2,16.5 269.6,14.7 269.6,18.3" fill="#585858"/>
<rect x="266" y="3" width="1.2" height="12" fill="#138a13"/><rect x="264.4" y="5.6" width="4.4" height="7.2" fill="url(#cgr)" stroke="#138a13" stroke-width=".9"/>
<g fill="#585858" shape-rendering="crispEdges"><rect x="288" y="6" width="1" height="13"/><rect x="286" y="16" width="13" height="1"/></g><polygon points="288.5,4.8 290.3,7.4 286.7,7.4" fill="#585858"/><polygon points="300.2,16.5 297.6,14.7 297.6,18.3" fill="#585858"/>
<path d="M287.3,13.8 C290,12 291.5,8 293.3,8.1 C295,8.2 296.5,11.6 299,12.4" fill="none" stroke="#1f9a1f" stroke-width="1.3"/>
<rect x="309" y="0" width="1" height="21" fill="#a0a0a0"/><rect x="310" y="0" width="1" height="21" fill="#fff"/>
<line x1="328.3" y1="13.2" x2="332.70000000000005" y2="17.6" stroke="#8a6a10" stroke-width="3.6" stroke-linecap="butt"/><line x1="328.5" y1="13.4" x2="332.40000000000003" y2="17.3" stroke="#e6c82a" stroke-width="2.2"/><circle cx="324.1" cy="9" r="5.8" fill="url(#lens)" stroke="#2f72c4" stroke-width="1.2"/><rect x="320.8" y="8" width="6.6" height="2" fill="#3c88b4"/><rect x="323.1" y="5.7" width="2" height="6.6" fill="#3c88b4"/>
<line x1="356.3" y1="13.2" x2="360.70000000000005" y2="17.6" stroke="#8a6a10" stroke-width="3.6" stroke-linecap="butt"/><line x1="356.5" y1="13.4" x2="360.40000000000003" y2="17.3" stroke="#e6c82a" stroke-width="2.2"/><circle cx="352.1" cy="9" r="5.8" fill="url(#lens)" stroke="#2f72c4" stroke-width="1.2"/><rect x="348.8" y="8" width="6.6" height="2" fill="#3c88b4"/>
<rect x="374" y="3" width="8" height="8" fill="url(#tgreen)"/><rect x="375.2" y="6.2" width="5.6" height="3.8" fill="#fff"/><rect x="376" y="7.4" width="4" height="1" fill="#bfe8a8"/><rect x="375" y="4" width="1" height="1" fill="#fff" opacity=".8"/>
<rect x="382" y="3" width="8" height="8" fill="url(#tblue)"/><rect x="383.2" y="6.2" width="5.6" height="3.8" fill="#fff"/><rect x="384" y="7.4" width="4" height="1" fill="#b8ccff"/><rect x="383" y="4" width="1" height="1" fill="#fff" opacity=".8"/>
<rect x="374" y="11" width="8" height="8" fill="url(#tblue)"/><rect x="375.2" y="14.2" width="5.6" height="3.8" fill="#fff"/><rect x="376" y="15.4" width="4" height="1" fill="#b8ccff"/><rect x="375" y="12" width="1" height="1" fill="#fff" opacity=".8"/>
<rect x="382" y="11" width="8" height="8" fill="url(#tgreen)"/><rect x="383.2" y="14.2" width="5.6" height="3.8" fill="#fff"/><rect x="384" y="15.4" width="4" height="1" fill="#bfe8a8"/><rect x="383" y="12" width="1" height="1" fill="#fff" opacity=".8"/>
<rect x="399" y="0" width="1" height="21" fill="#a0a0a0"/><rect x="400" y="0" width="1" height="21" fill="#fff"/>
<rect x="405" y="1" width="24" height="20" fill="url(#chk)"/><rect x="404" y="0" width="1" height="21" fill="#a0a0a0"/>
<g fill="#585858" shape-rendering="crispEdges"><rect x="412" y="6" width="1" height="13"/><rect x="410" y="16" width="13" height="1"/></g><polygon points="412.5,4.8 414.3,7.4 410.7,7.4" fill="#585858"/><polygon points="424.2,16.5 421.6,14.7 421.6,18.3" fill="#585858"/>
<polygon points="417.4,7.3 421,10.5 417.4,13.7" fill="#7fe07f" stroke="#189818" stroke-width="1"/>
<rect x="433" y="1" width="24" height="20" fill="url(#chk)"/><rect x="432" y="0" width="1" height="21" fill="#a0a0a0"/>
<g fill="#585858" shape-rendering="crispEdges"><rect x="440" y="6" width="1" height="13"/><rect x="438" y="16" width="13" height="1"/></g><polygon points="440.5,4.8 442.3,7.4 438.7,7.4" fill="#585858"/><polygon points="452.2,16.5 449.6,14.7 449.6,18.3" fill="#585858"/>
<rect x="446" y="5" width="1.4" height="10" fill="#1a6fa8"/><polygon points="447.6,10.5 450.4,8.2 450.4,9.9 452,9.9 452,11.1 450.4,11.1 450.4,12.8" fill="#e05000"/>
<rect x="461" y="0" width="1" height="21" fill="#a0a0a0"/><rect x="462" y="0" width="1" height="21" fill="#fff"/>
<path d="M471.6,4.4 a.8,.8 0 0 1 .8,-.8 h7 l3,3 v9.4 a.8,.8 0 0 1 -.8,.8 h-9.2 a.8,.8 0 0 1 -.8,-.8 z" fill="#fff" stroke="#8c8c8c" stroke-width=".9"/><path d="M479.4,3.6 v3 h3" fill="#e8e8e8" stroke="#8c8c8c" stroke-width=".7"/>
<text x="473" y="13.6" font-size="10.5" font-style="italic" fill="#3a3020" font-family="Liberation Serif, serif">f</text>
<path d="M479.3,9.4 h3.4 v3.9 h3.9 v3.4 h-3.9 v3.9 h-3.4 v-3.9 h-3.9 v-3.4 h3.9 z" fill="url(#plusg)" stroke="#0c8a0c" stroke-width=".8"/>
<polygon points="492.5,10 498.5,10 495.5,13" fill="#000"/>
<circle cx="516.8" cy="10.8" r="6.9" fill="#fff" stroke="url(#clk)" stroke-width="2.3"/><circle cx="516.8" cy="10.8" r="4.6" fill="none" stroke="#888" stroke-width=".8" stroke-dasharray=".6 1.81" opacity=".8"/><circle cx="516.8" cy="10.8" r="7.9" fill="none" stroke="#0c3f9a" stroke-width=".5"/>
<path d="M516.6,6.6 V11 H519.6" fill="none" stroke="#333" stroke-width="1.1"/><circle cx="516.8" cy="14.2" r=".6" fill="#6aa0ff"/>
<polygon points="531.5,10 537.5,10 534.5,13" fill="#000"/>
<rect x="548.4" y="4.2" width="15.4" height="13.6" fill="#fff" stroke="#3068c0" stroke-width="1"/><rect x="548.4" y="4.2" width="15.4" height="2.4" fill="#4a86d8"/><rect x="548.9" y="11.8" width="14.4" height="1" fill="#3068c0"/>
<polyline points="550.4,10.4 552.4,10.4 554,8.6 556,8.6 557.6,9.6 559.6,9.6 561,8.6 562,8.6" fill="none" stroke="#a82000" stroke-width="1.1"/>
<polyline points="551.2,15.6 553.2,14.6 555.4,15.6 558,13.6 559.8,13.6 561.8,15.6" fill="none" stroke="#128a22" stroke-width="1.1"/>
<polygon points="570.3,10 576.3,10 573.3,13" fill="#000"/>
<rect x="582" y="0" width="1" height="22" fill="#a0a0a0"/><rect x="583" y="0" width="1" height="22" fill="#fff"/>
<rect x="586" y="1" width="3" height="1" fill="#a8a8a8"/><rect x="586" y="3" width="3" height="1" fill="#a8a8a8"/><rect x="586" y="5" width="3" height="1" fill="#a8a8a8"/><rect x="586" y="7" width="3" height="1" fill="#a8a8a8"/><rect x="586" y="9" width="3" height="1" fill="#a8a8a8"/><rect x="586" y="11" width="3" height="1" fill="#a8a8a8"/><rect x="586" y="13" width="3" height="1" fill="#a8a8a8"/><rect x="586" y="15" width="3" height="1" fill="#a8a8a8"/><rect x="586" y="17" width="3" height="1" fill="#a8a8a8"/><rect x="586" y="19" width="3" height="1" fill="#a8a8a8"/>
<rect x="593" y="1" width="24" height="20" fill="url(#chk)"/><rect x="592" y="0" width="1" height="21" fill="#a0a0a0"/>
<polygon points="599.6,4 599.6,15.4 602.4,13 604.6,18.3 606.6,17.4 604.4,12.3 608.6,12.1" fill="#3c3c3c"/>
<g fill="#404040" shape-rendering="crispEdges"><rect x="632" y="4" width="1" height="5"/><rect x="632" y="14" width="1" height="5"/><rect x="625" y="11" width="5" height="1"/><rect x="635" y="11" width="5" height="1"/><rect x="632" y="11" width="1" height="1" opacity=".5"/></g>
<rect x="649" y="0" width="1" height="21" fill="#a0a0a0"/><rect x="650" y="0" width="1" height="21" fill="#fff"/>
<g fill="#505050" shape-rendering="crispEdges"><rect x="666" y="5" width="1" height="13"/><rect x="689" y="11" width="12" height="1"/></g>
<line x1="717.2" y1="17.8" x2="729" y2="5.6" stroke="#505050" stroke-width="1"/>
<g stroke="#404040" fill="none" stroke-linecap="round"><line x1="742.6" y1="12.5" x2="750.8" y2="5" stroke-width=".9"/><line x1="747.8" y1="17.6" x2="757" y2="9.4" stroke-width=".9"/><line x1="744" y1="16.4" x2="756.2" y2="5.6" stroke-width="1"/><line x1="745.4" y1="17.2" x2="745" y2="11" stroke-width="1.3"/><line x1="748.5" y1="14.4" x2="748.7" y2="9.4" stroke-width="1.3"/><line x1="751.8" y1="13" x2="751.4" y2="7.6" stroke-width="1.3"/><line x1="755.5" y1="10.2" x2="754.5" y2="3.3" stroke-width="1.3"/></g>
<text x="753.8" y="19.8" font-size="6.4" font-weight="bold" fill="#333">E</text>
<line x1="772" x2="785" y1="4.5" y2="4.5" stroke="#505050" stroke-width="1" stroke-dasharray="1 1" shape-rendering="crispEdges"/>
<line x1="772" x2="785" y1="7.5" y2="7.5" stroke="#505050" stroke-width="1" stroke-dasharray="1 1" shape-rendering="crispEdges"/>
<line x1="772" x2="785" y1="11.5" y2="11.5" stroke="#505050" stroke-width="1" stroke-dasharray="1 1" shape-rendering="crispEdges"/>
<line x1="772" x2="781" y1="15.5" y2="15.5" stroke="#505050" stroke-width="1" stroke-dasharray="1 1" shape-rendering="crispEdges"/>
<text x="781.8" y="19.8" font-size="6.4" font-weight="bold" fill="#333">F</text>
<text x="802.8" y="15.9" font-size="12.2" fill="#555" stroke="#555" stroke-width=".3">A</text>
<rect x="829.5" y="5.5" width="11" height="12" fill="none" stroke="#505050" stroke-width="1" stroke-dasharray="1 1" shape-rendering="crispEdges"/>
<text x="835.2" y="15.9" font-size="10.8" font-weight="bold" fill="#555" text-anchor="middle">T</text>
<polygon points="859.6,5 863,8.4 861.4,8.4 861.4,9.6 857.8,9.6 857.8,8.4 856.2,8.4" fill="#505050"/>
<polygon points="866.8,18 863.4,14.6 865,14.6 865,13.2 868.6,13.2 868.6,14.6 870.2,14.6" fill="#505050"/>
<polyline points="857.8,12.2 860.2,14.6 864.8,9.2" fill="none" stroke="#505050" stroke-width="1.1"/>
<polygon points="876.5,10 882.5,10 879.5,13" fill="#000"/>
<rect x="888" y="0" width="1" height="22" fill="#a0a0a0"/><rect x="889" y="0" width="1" height="22" fill="#fff"/>
<rect x="892" y="1" width="3" height="1" fill="#a8a8a8"/><rect x="892" y="3" width="3" height="1" fill="#a8a8a8"/><rect x="892" y="5" width="3" height="1" fill="#a8a8a8"/><rect x="892" y="7" width="3" height="1" fill="#a8a8a8"/><rect x="892" y="9" width="3" height="1" fill="#a8a8a8"/><rect x="892" y="11" width="3" height="1" fill="#a8a8a8"/><rect x="892" y="13" width="3" height="1" fill="#a8a8a8"/><rect x="892" y="15" width="3" height="1" fill="#a8a8a8"/><rect x="892" y="17" width="3" height="1" fill="#a8a8a8"/><rect x="892" y="19" width="3" height="1" fill="#a8a8a8"/>
<rect x="1039" y="1" width="24" height="20" fill="url(#chk)"/><rect x="1038" y="0" width="1" height="21" fill="#a0a0a0"/>
<text transform="translate(903.2,15) scale(.945,1)" font-size="10.6" fill="#3a3a3a" text-rendering="geometricPrecision">M1</text>
<text transform="translate(931.2,15) scale(.945,1)" font-size="10.6" fill="#3a3a3a" text-rendering="geometricPrecision">M5</text>
<text transform="translate(957.4,15) scale(.945,1)" font-size="10.6" fill="#3a3a3a" text-rendering="geometricPrecision">M15</text>
<text transform="translate(985.2,15) scale(.945,1)" font-size="10.6" fill="#3a3a3a" text-rendering="geometricPrecision">M30</text>
<text transform="translate(1016.0,15) scale(.945,1)" font-size="10.6" fill="#3a3a3a" text-rendering="geometricPrecision">H1</text>
<text transform="translate(1043.1,15) scale(.945,1)" font-size="10.6" fill="#3a3a3a" text-rendering="geometricPrecision">H4</text>
<text transform="translate(1072.1999999999998,15) scale(.945,1)" font-size="10.6" fill="#3a3a3a" text-rendering="geometricPrecision">D1</text>
<text transform="translate(1099.8999999999999,15) scale(.945,1)" font-size="10.6" fill="#3a3a3a" text-rendering="geometricPrecision">W1</text>
<text transform="translate(1126.3999999999999,15) scale(.945,1)" font-size="10.6" fill="#3a3a3a" text-rendering="geometricPrecision">MN</text>
<rect x="1149" y="0" width="1" height="22" fill="#a0a0a0"/><rect x="1150" y="0" width="1" height="22" fill="#fff"/>
<line x1="1616.6" y1="11.6" x2="1612.2" y2="15.6" stroke="#2456c8" stroke-width="2.6"/><circle cx="1619.7" cy="8.4" r="4" fill="#f4f6ff" stroke="#2456c8" stroke-width="1.4"/>
<path d="M1636.6,13 a5.6,4.6 0 0 1 11,0 a5.6,4.4 0 0 1 -6.4,4.3 l-1.6,2.2 l-.3,-2.6 a5.4,4.4 0 0 1 -2.7,-3.9 z" fill="#e6e8f2" stroke="#b4b4b4" stroke-width=".9"/>
<circle cx="1650.6" cy="8.4" r="8.2" fill="url(#badge)"/>
<text x="1649.5" y="13" font-size="12.4" fill="#fff" text-anchor="middle" font-family="DejaVu Sans, Liberation Sans, sans-serif">1</text>
</svg>
</div></body></html>
